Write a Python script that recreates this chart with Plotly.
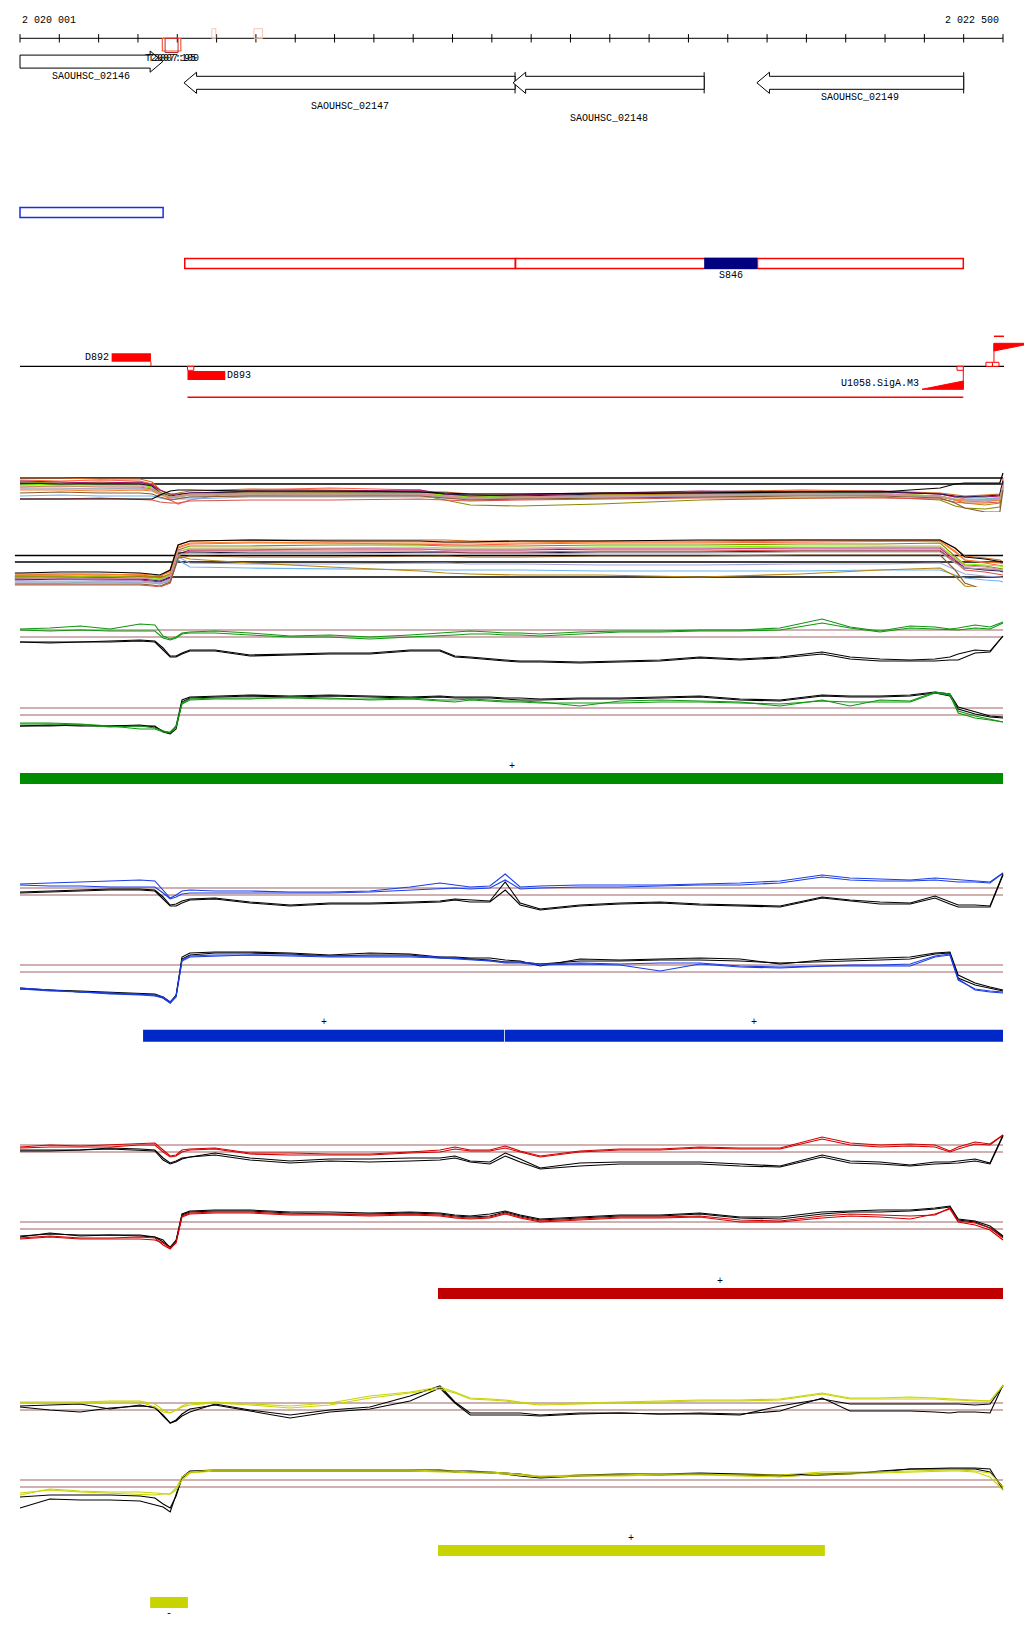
import plotly.graph_objects as go

# ======================= DATA =======================
RULER_START = 2020000
RULER_END = 2022500
RULER_TICK_STEP = 100
RULER_LABELS = ["2 020 001", "2 022 500"]

TERM_NAMES = ["T2007:100", "T2007:95"]
TERM_START = [2020362, 2020369]
TERM_END = [2020409, 2020402]
TERM_COLORS = ["#f05a3c", "#b42828"]
WEAK_TERM_START = [2020488, 2020595]
WEAK_TERM_END = [2020498, 2020617]

GENE_NAMES = ["SAOUHSC_02146", "SAOUHSC_02147", "SAOUHSC_02148", "SAOUHSC_02149"]
GENE_START = [2020000, 2020417, 2021254, 2021874]
GENE_END = [2020363, 2021259, 2021740, 2022400]
GENE_STRAND = ["+", "-", "-", "-"]

OPERON_START = [2020000]
OPERON_END = [2020364]
REGION_START = [2020419, 2021260]
REGION_END = [2021260, 2022399]
SRNA_NAMES = ["S846"]
SRNA_START = [2021740]
SRNA_END = [2021876]

PROM_NAMES = ["D892", "D893"]
PROM_START = [2020233, 2020426]
PROM_END = [2020333, 2020522]
PROM_STRAND = ["+", "-"]
SIGMA_NAMES = ["U1058.SigA.M3", ""]
SIGMA_START = [2022294, 2022477]
SIGMA_END = [2022399, 2022575]
SIGMA_STRAND = ["-", "+"]
TX_START = [2020426]
TX_END = [2022399]

# tiling-array probe positions
MC_POS = [2019987, 2020000, 2020102, 2020203, 2020305, 2020336, 2020356, 2020382, 2020402, 2020432,
          2020585, 2020788, 2021017, 2021081, 2021145, 2021272, 2021475, 2021729, 2021984, 2022187,
          2022340, 2022378, 2022403, 2022454, 2022492, 2022500]
SIG_POS = [2020000, 2020076, 2020153, 2020229, 2020305, 2020343, 2020364, 2020382, 2020397, 2020412,
           2020432, 2020496, 2020585, 2020687, 2020788, 2020890, 2020992, 2021068, 2021106, 2021145,
           2021195, 2021234, 2021272, 2021323, 2021424, 2021526, 2021628, 2021729, 2021831, 2021933,
           2022040, 2022111, 2022187, 2022264, 2022327, 2022365, 2022386, 2022429, 2022467, 2022500]

# all-conditions profiles, strand (+) (upper group)
UP_CHOCOLATE = [None, 0.6, 0.6, 0.5, 0.5, 0.2, -0.6, -1.1, -0.9, -0.7, -0.5, -0.6, -0.7, -0.8, -1.0, -1.0, -0.9, -0.8, -0.6, -0.7, -0.9, -1.1, -1.2, -1.1, -1.0, 0.4]
UP_TOMATO = [None, 0.4, 0.3, 0.4, 0.3, 0.0, -0.8, -1.6, -2.0, -1.6, -0.6, -0.4, -0.6, -1.1, -1.3, -1.1, -1.0, -0.9, -0.7, -0.8, -1.0, -1.3, -1.5, -1.6, -1.4, 0.6]
UP_OLIVE = [None, 0.2, 0.1, 0.2, 0.1, -0.2, -1.0, -1.4, -1.3, -1.1, -1.1, -1.0, -1.1, -1.6, -2.1, -2.2, -2.0, -1.6, -1.4, -1.3, -1.6, -2.2, -2.4, -2.5, -2.3, 0.2]
UP_LIME = [None, -0.1, 0.0, -0.1, -0.1, -0.3, -0.8, -1.2, -1.2, -1.0, -1.0, -0.9, -0.9, -1.1, -1.3, -1.2, -1.1, -1.0, -0.9, -0.9, -1.2, -1.5, -1.6, -1.5, -1.3, 0.0]
UP_MAGENTA = [None, 0.3, 0.2, 0.1, 0.2, -0.1, -0.6, -1.0, -1.0, -0.9, -0.7, -0.7, -0.6, -1.0, -1.2, -1.1, -0.9, -0.7, -0.8, -0.7, -1.0, -1.3, -1.3, -1.3, -1.2, 0.1]
UP_NAVY = [None, 0.1, 0.0, 0.0, 0.0, -0.2, -0.9, -1.2, -1.1, -0.9, -0.8, -0.8, -0.8, -1.0, -1.1, -1.2, -1.0, -0.9, -0.8, -0.8, -1.0, -1.2, -1.3, -1.2, -1.1, 0.3]
UP_SKY = [None, -1.2, -1.1, -1.2, -1.2, -1.2, -1.4, -1.6, -1.5, -1.5, -1.3, -1.3, -1.3, -1.4, -1.5, -1.3, -1.2, -1.1, -1.1, -1.1, -1.3, -1.6, -1.5, -1.5, -1.4, -0.6]
UP_LAVENDER = [None, -0.4, -0.4, -0.5, -0.4, -0.6, -1.0, -1.4, -1.4, -1.3, -1.2, -1.2, -1.1, -1.3, -1.5, -1.4, -1.3, -1.2, -1.1, -1.1, -1.3, -1.6, -1.7, -1.7, -1.6, -0.2]
UP_RED = [None, -1.5, -1.5, -1.4, -1.5, -1.6, -1.8, -1.9, -1.9, -1.7, -1.6, -1.6, -1.5, -1.6, -1.7, -1.6, -1.5, -1.4, -1.4, -1.4, -1.5, -1.8, -1.9, -1.9, -1.8, -0.4]
UP_GOLD = [None, -0.3, -0.2, -0.3, -0.3, -0.5, -1.0, -1.3, -1.2, -1.0, -0.9, -0.9, -1.0, -1.2, -1.4, -1.3, -1.1, -1.0, -0.9, -1.0, -1.2, -1.6, -1.9, -2.1, -1.9, -0.1]
UP_ORANGE = [None, -0.6, -0.6, -0.7, -0.6, -0.7, -1.1, -1.4, -1.3, -1.1, -1.0, -1.0, -1.0, -1.2, -1.5, -1.4, -1.2, -1.1, -1.0, -1.0, -1.3, -1.6, -1.7, -1.8, -1.6, -0.3]
UP_PINK = [None, -0.2, -0.2, -0.2, -0.2, -0.4, -0.9, -1.3, -1.2, -1.0, -1.0, -1.0, -1.0, -1.2, -1.4, -1.3, -1.2, -1.1, -1.0, -1.0, -1.2, -1.5, -1.6, -1.6, -1.5, -0.1]
UP_GRAY = [None, -0.5, -0.5, -0.5, -0.5, -0.6, -1.0, -1.3, -1.3, -1.1, -1.1, -1.1, -1.1, -1.3, -1.5, -1.4, -1.2, -1.1, -1.0, -1.1, -1.3, -1.5, -1.6, -1.6, -1.5, -0.2]
UP_BROWN = [None, -0.9, -0.8, -0.9, -0.9, -1.0, -1.3, -1.6, -1.5, -1.3, -1.2, -1.2, -1.2, -1.4, -1.6, -1.5, -1.4, -1.3, -1.2, -1.2, -1.4, -1.9, -2.4, -2.8, -2.8, -0.6]
UP_BLACK = [None, -1.5, -1.5, -1.5, -1.5, -1.5, -1.1, -0.7, -0.6, -0.6, -0.7, -0.7, -0.8, -0.9, -1.0, -1.0, -0.9, -0.9, -0.8, -0.8, -0.4, 0.0, 0.1, 0.1, 0.1, 1.1]
UP_THRESHOLDS = [0.6, 0.0]

# all-conditions profiles, strand (-) (lower group)
LO_CHOCOLATE = [-1.3, -1.3, -1.2, -1.2, -1.3, -1.4, -1.5, -0.8, 1.7, 2.1, 2.2, 2.2, 2.2, 2.2, 2.1, 2.1, 2.1, 2.1, 2.2, 2.2, 2.2, 1.4, 0.6, 0.4, 0.2, 0.0]
LO_TOMATO = [-1.6, -1.6, -1.5, -1.6, -1.6, -1.7, -1.8, -1.3, 1.4, 1.8, 1.9, 1.9, 1.8, 1.7, 1.7, 1.8, 1.9, 1.9, 2.0, 2.1, 2.1, 1.0, 0.2, -0.1, -0.3, -0.4]
LO_OLIVE = [-1.4, -1.4, -1.4, -1.5, -1.4, -1.5, -1.6, -1.2, 1.2, 1.6, 1.6, 1.7, 1.7, 1.6, 1.6, 1.6, 1.7, 1.7, 1.8, 1.8, 1.9, 0.6, -0.3, -0.4, -0.6, -0.7]
LO_LIME = [-1.5, -1.5, -1.5, -1.4, -1.5, -1.6, -1.7, -1.3, 1.0, 1.4, 1.4, 1.4, 1.5, 1.4, 1.4, 1.4, 1.5, 1.5, 1.6, 1.6, 1.6, 0.4, -0.2, -0.3, -0.4, -0.5]
LO_MAGENTA = [-1.8, -1.8, -1.7, -1.8, -1.8, -1.9, -2.0, -1.6, 0.8, 1.2, 1.2, 1.3, 1.3, 1.2, 1.2, 1.2, 1.3, 1.3, 1.4, 1.4, 1.4, 0.2, -0.6, -0.7, -0.8, -0.9]
LO_NAVY = [-1.7, -1.7, -1.7, -1.7, -1.7, -1.8, -1.9, -1.5, 0.9, 1.0, 0.9, 0.9, 1.0, 1.0, 0.9, 0.9, 1.0, 1.0, 1.1, 1.1, 1.1, 0.0, -0.6, -0.8, -0.9, -1.0]
LO_SKY = [-2.1, -2.1, -2.1, -2.0, -2.1, -2.1, -2.2, -1.9, 0.2, -0.5, -0.6, -0.7, -0.8, -0.8, -0.8, -0.8, -0.9, -0.9, -0.9, -0.8, -0.8, -1.3, -1.6, -1.8, -1.9, -2.0]
LO_LAVENDER = [-1.9, -1.9, -1.9, -1.9, -1.9, -2.0, -2.1, -1.7, 0.5, -0.1, -0.2, -0.2, -0.1, -0.1, -0.2, -0.2, -0.3, -0.3, -0.2, -0.2, -0.1, -0.8, -1.2, -1.4, -1.5, -1.6]
LO_RED = [-2.3, -2.3, -2.3, -2.3, -2.3, -2.4, -2.5, -2.1, 0.6, 1.1, 1.1, 1.1, 1.1, 1.0, 1.0, 1.0, 1.1, 1.1, 1.2, 1.2, 1.2, 0.0, -0.8, -1.0, -1.2, -1.3]
LO_GOLD = [-1.4, -1.4, -1.4, -1.4, -1.4, -1.5, -1.6, -1.2, 0.6, 0.3, -0.1, -0.5, -0.9, -1.1, -1.2, -1.3, -1.3, -1.5, -1.2, -0.8, -0.6, -1.4, -2.4, -2.7, -2.8, -2.9]
LO_ORANGE = [-1.2, -1.2, -1.2, -1.3, -1.2, -1.3, -1.4, -1.0, 1.5, 1.9, 2.0, 1.9, 1.9, 1.9, 1.9, 1.9, 2.0, 2.0, 2.1, 2.1, 2.1, 1.1, 0.2, 0.0, -0.1, -0.2]
LO_PINK = [-1.6, -1.6, -1.7, -1.7, -1.6, -1.7, -1.8, -1.4, 1.1, 1.3, 1.3, 1.3, 1.3, 1.3, 1.3, 1.3, 1.4, 1.4, 1.4, 1.5, 1.5, 0.3, -0.4, -0.5, -0.7, -0.8]
LO_GRAY = [-2.0, -2.0, -2.0, -2.0, -2.0, -2.1, -2.2, -1.8, 0.7, 0.9, 0.8, 0.8, 0.8, 0.8, 0.8, 0.8, 0.9, 0.9, 1.0, 1.0, 1.0, -0.1, -0.6, -0.7, -0.8, -0.9]
LO_BROWN = [-2.2, -2.2, -2.2, -2.2, -2.2, -2.3, -2.4, -2.0, 0.4, 0.6, 0.5, 0.5, 0.6, 0.6, 0.5, 0.5, 0.6, 0.6, 0.7, 0.7, 0.7, -0.8, -2.1, -2.8, -2.9, -3.0]
LO_BLACK = [-1.1, -1.1, -1.0, -1.0, -1.1, -1.2, -1.3, -0.8, 1.7, 2.1, 2.2, 2.1, 2.1, 2.0, 2.0, 2.1, 2.1, 2.2, 2.2, 2.2, 2.2, 1.4, 0.5, 0.3, 0.1, 0.0]
LO_THRESHOLDS = [0.65, 0.0, -1.5]

MC_COLORS = ["#d2691e", "#ff6347", "#8a8a00", "#7cfc00", "#a0106e", "#1c1848", "#6cb4f0",
             "#a3a3e0", "#d9534f", "#b8860b", "#ff7f24", "#e08cb0", "#a8a8a8", "#8b5a2b"]

# condition panels: two replicates of condition (colour) and reference (black)
SIG_THRESHOLDS = [0.0, 0.7]

GREEN_TOP_1 = [0.8, 0.9, 1.1, 0.8, 1.3, 1.2, 0.1, -0.2, 0.0, 0.4, 0.5, 0.6, 0.4, 0.1, 0.2, 0.0, 0.2, 0.4, 0.5, 0.6, 0.5, 0.4, 0.4, 0.3, 0.5, 0.6, 0.6, 0.7, 0.7, 0.9, 1.8, 1.0, 0.6, 1.1, 1.0, 0.8, 0.9, 1.2, 1.0, 1.5]
GREEN_TOP_2 = [0.7, 0.6, 0.7, 0.6, 0.6, 0.6, -0.1, -0.3, -0.1, 0.3, 0.4, 0.4, 0.2, 0.0, 0.0, -0.2, 0.0, 0.1, 0.2, 0.3, 0.3, 0.2, 0.2, 0.1, 0.3, 0.5, 0.5, 0.6, 0.6, 0.7, 1.4, 0.9, 0.5, 0.9, 0.8, 0.7, 0.7, 0.9, 0.8, 1.4]
GREEN_TOP_REF_1 = [-0.5, -0.5, -0.5, -0.4, -0.3, -0.4, -1.1, -1.9, -1.9, -1.6, -1.3, -1.3, -1.8, -1.7, -1.6, -1.6, -1.3, -1.3, -1.9, -2.0, -2.2, -2.3, -2.4, -2.4, -2.5, -2.4, -2.3, -2.0, -2.2, -2.0, -1.5, -2.0, -2.2, -2.3, -2.2, -2.0, -1.7, -1.3, -1.4, 0.1]
GREEN_TOP_REF_2 = [-0.5, -0.6, -0.5, -0.5, -0.4, -0.5, -1.3, -2.0, -2.0, -1.7, -1.4, -1.4, -1.9, -1.8, -1.7, -1.7, -1.4, -1.4, -2.0, -2.1, -2.3, -2.4, -2.5, -2.5, -2.6, -2.5, -2.4, -2.1, -2.3, -2.1, -1.7, -2.2, -2.4, -2.4, -2.4, -2.3, -2.3, -1.6, -1.5, 0.1]
GREEN_BOT_1 = [-0.9, -0.9, -1.0, -1.2, -1.1, -1.3, -1.6, -1.8, -1.2, 1.2, 1.6, 1.7, 1.7, 1.7, 1.6, 1.6, 1.7, 1.5, 1.5, 1.6, 1.5, 1.4, 1.4, 1.3, 0.9, 1.4, 1.5, 1.4, 1.3, 0.9, 1.5, 0.9, 1.5, 1.4, 2.3, 2.1, 0.4, -0.1, -0.4, -0.7]
GREEN_BOT_2 = [-0.8, -0.8, -0.9, -1.1, -1.4, -1.4, -1.7, -1.7, -1.1, 1.1, 1.5, 1.6, 1.6, 1.8, 1.7, 1.5, 1.6, 1.4, 1.3, 1.5, 1.4, 1.3, 1.3, 1.2, 1.2, 1.2, 1.3, 1.3, 1.2, 1.1, 1.4, 1.3, 1.3, 1.3, 2.2, 2.0, 0.2, -0.3, -0.5, -0.7]
GREEN_BOT_REF_1 = [-1.1, -1.0, -1.1, -1.1, -1.0, -1.2, -1.6, -1.8, -1.1, 1.5, 1.8, 1.9, 2.0, 1.9, 2.0, 1.9, 1.8, 1.9, 1.8, 1.8, 1.8, 1.7, 1.7, 1.6, 1.7, 1.7, 1.8, 1.9, 1.6, 1.5, 2.0, 1.9, 1.9, 2.0, 2.3, 2.1, 0.8, 0.3, -0.1, -0.2]
GREEN_BOT_REF_2 = [-1.1, -1.1, -1.0, -1.1, -1.1, -1.1, -1.7, -1.9, -1.4, 1.3, 1.7, 1.8, 1.9, 1.8, 1.9, 1.8, 1.7, 1.8, 1.7, 1.7, 1.7, 1.6, 1.5, 1.5, 1.6, 1.6, 1.7, 1.8, 1.5, 1.4, 1.9, 1.8, 1.8, 1.9, 2.2, 1.9, 0.6, 0.1, -0.2, -0.3]

BLUE_TOP_1 = [1.1, 1.2, 1.3, 1.4, 1.5, 1.4, 0.5, -0.3, 0.0, 0.4, 0.5, 0.4, 0.4, 0.3, 0.3, 0.4, 0.8, 1.2, 1.0, 0.8, 0.9, 2.1, 0.8, 0.9, 1.0, 1.0, 1.0, 1.1, 1.2, 1.4, 2.0, 1.7, 1.6, 1.5, 1.7, 1.6, 1.5, 1.4, 1.3, 2.2]
BLUE_TOP_2 = [1.0, 0.9, 0.9, 0.8, 0.8, 0.8, 0.2, -0.4, -0.2, 0.1, 0.2, 0.2, 0.2, 0.2, 0.2, 0.3, 0.5, 0.7, 0.7, 0.6, 0.7, 1.5, 0.6, 0.7, 0.8, 0.8, 0.9, 1.0, 1.0, 1.2, 1.8, 1.5, 1.4, 1.4, 1.5, 1.4, 1.3, 1.3, 1.2, 2.2]
BLUE_TOP_REF_1 = [0.3, 0.4, 0.5, 0.6, 0.6, 0.5, -0.2, -1.0, -0.9, -0.6, -0.4, -0.3, -0.7, -1.0, -0.8, -0.8, -0.7, -0.6, -0.4, -0.5, -0.6, 1.3, -0.8, -1.4, -1.0, -0.8, -0.7, -0.9, -1.0, -1.1, -0.2, -0.5, -0.7, -0.8, -0.1, -0.7, -1.0, -1.0, -1.1, 2.1]
BLUE_TOP_REF_2 = [0.2, 0.3, 0.4, 0.5, 0.5, 0.4, -0.4, -1.1, -1.1, -0.8, -0.5, -0.4, -0.8, -1.1, -0.9, -0.9, -0.8, -0.7, -0.5, -0.7, -0.7, 0.5, -1.0, -1.5, -1.1, -0.9, -0.8, -1.0, -1.1, -1.2, -0.3, -0.6, -0.9, -0.9, -0.3, -0.9, -1.2, -1.2, -1.2, 2.0]
BLUE_BOT_1 = [-1.6, -1.8, -2.0, -2.1, -2.2, -2.3, -2.5, -3.0, -2.4, 1.2, 1.6, 1.7, 1.7, 1.7, 1.6, 1.6, 1.6, 1.5, 1.4, 1.3, 1.1, 1.0, 1.0, 0.8, 0.9, 0.8, 0.9, 0.9, 0.6, 0.5, 0.6, 0.6, 0.6, 0.6, 1.5, 1.7, -0.8, -1.7, -1.9, -2.0]
BLUE_BOT_2 = [-1.7, -1.9, -2.0, -2.2, -2.3, -2.4, -2.6, -3.1, -2.5, 1.1, 1.5, 1.6, 1.7, 1.6, 1.5, 1.5, 1.5, 1.4, 1.3, 1.2, 1.1, 0.9, 0.9, 0.7, 0.8, 0.7, 0.1, 0.8, 0.5, 0.4, 0.6, 0.7, 0.7, 0.8, 1.6, 1.8, -0.7, -1.8, -2.0, -2.1]
BLUE_BOT_REF_1 = [-1.6, -1.8, -1.9, -2.0, -2.1, -2.2, -2.5, -3.0, -2.3, 1.5, 1.9, 2.0, 2.0, 1.9, 1.7, 1.9, 1.8, 1.5, 1.5, 1.4, 1.4, 1.2, 1.1, 0.6, 1.3, 1.2, 1.3, 1.4, 1.3, 0.8, 1.2, 1.3, 1.4, 1.5, 1.9, 2.0, -0.3, -1.1, -1.5, -1.8]
BLUE_BOT_REF_2 = [-1.7, -1.8, -2.0, -2.1, -2.2, -2.3, -2.6, -3.1, -2.4, 1.3, 1.7, 1.9, 1.9, 1.8, 1.6, 1.7, 1.7, 1.4, 1.4, 1.3, 1.2, 1.0, 1.0, 0.8, 1.1, 1.1, 1.2, 1.2, 1.1, 0.9, 1.0, 1.1, 1.2, 1.3, 1.8, 1.9, -0.6, -1.3, -1.6, -1.9]

RED_TOP_1 = [0.5, 0.7, 0.6, 0.7, 0.8, 0.9, 0.2, -0.4, -0.3, 0.2, 0.3, 0.4, -0.1, -0.1, -0.2, -0.2, 0.0, 0.2, 0.5, 0.2, 0.2, 0.6, 0.1, -0.4, 0.1, 0.3, 0.3, 0.5, 0.4, 0.4, 1.5, 0.9, 0.7, 0.8, 0.7, 0.1, 0.5, 1.0, 0.8, 1.7]
RED_TOP_2 = [0.4, 0.5, 0.5, 0.5, 0.7, 0.7, 0.0, -0.5, -0.4, 0.0, 0.2, 0.3, -0.2, -0.3, -0.3, -0.3, -0.1, 0.0, 0.3, 0.1, 0.1, 0.4, 0.0, -0.5, 0.0, 0.2, 0.2, 0.4, 0.3, 0.3, 1.3, 0.7, 0.5, 0.6, 0.5, 0.0, 0.3, 0.8, 0.7, 1.7]
RED_TOP_REF_1 = [0.1, 0.1, 0.2, 0.4, 0.3, 0.2, -0.6, -1.1, -0.9, -0.6, -0.5, -0.1, -0.6, -0.9, -0.7, -0.7, -0.6, -0.6, -0.4, -0.9, -1.0, -0.1, -0.7, -1.6, -1.1, -1.0, -1.0, -1.0, -1.2, -1.4, -0.3, -0.9, -1.0, -1.3, -1.0, -1.0, -0.9, -0.7, -1.1, 1.7]
RED_TOP_REF_2 = [0.2, 0.2, 0.2, 0.3, 0.2, 0.1, -0.8, -1.2, -1.0, -0.7, -0.5, -0.3, -0.8, -1.1, -0.9, -1.0, -0.9, -0.8, -0.6, -1.0, -1.2, -0.4, -1.0, -1.7, -1.4, -1.2, -1.2, -1.2, -1.4, -1.5, -0.5, -1.1, -1.2, -1.4, -1.2, -1.1, -1.1, -0.9, -1.2, 1.6]
RED_BOT_1 = [-0.9, -0.7, -0.9, -0.9, -0.8, -0.9, -1.6, -2.0, -1.3, 1.3, 1.6, 1.7, 1.7, 1.5, 1.5, 1.4, 1.5, 1.4, 1.2, 1.1, 1.2, 1.6, 1.2, 0.8, 1.0, 1.2, 1.2, 1.3, 0.9, 0.8, 1.3, 1.5, 1.4, 1.3, 1.4, 2.1, 0.8, 0.6, 0.1, -0.9]
RED_BOT_2 = [-1.0, -0.8, -1.0, -1.0, -1.0, -1.1, -1.4, -1.9, -1.4, 1.2, 1.5, 1.6, 1.6, 1.4, 1.4, 1.3, 1.4, 1.3, 1.1, 1.0, 1.1, 1.5, 1.1, 0.7, 0.9, 1.1, 1.1, 1.2, 0.7, 0.7, 1.1, 1.3, 1.2, 1.0, 1.5, 2.0, 0.7, 0.4, -0.1, -1.1]
RED_BOT_REF_1 = [-0.8, -0.4, -0.7, -0.6, -0.7, -0.8, -1.3, -1.8, -1.1, 1.5, 1.8, 1.9, 1.9, 1.7, 1.7, 1.6, 1.7, 1.6, 1.4, 1.3, 1.5, 1.8, 1.4, 1.0, 1.2, 1.4, 1.4, 1.6, 1.2, 1.2, 1.7, 1.8, 1.9, 1.9, 2.1, 2.3, 1.0, 0.8, 0.3, -0.7]
RED_BOT_REF_2 = [-0.7, -0.5, -0.6, -0.6, -0.6, -0.8, -1.1, -1.9, -1.2, 1.4, 1.7, 1.8, 1.8, 1.6, 1.5, 1.5, 1.6, 1.5, 1.3, 1.2, 1.3, 1.7, 1.3, 0.9, 1.1, 1.3, 1.3, 1.5, 1.1, 1.0, 1.5, 1.7, 1.7, 1.8, 2.0, 2.2, 0.9, 0.7, 0.1, -0.8]

YELLOW_TOP_1 = [0.8, 0.8, 0.8, 0.9, 0.9, 0.6, 0.0, -0.3, 0.0, 0.4, 0.7, 0.8, 0.6, 0.4, 0.7, 1.4, 1.8, 2.3, 1.8, 1.2, 1.1, 1.0, 0.8, 0.6, 0.7, 0.8, 0.9, 1.0, 1.0, 1.1, 1.7, 1.2, 1.2, 1.3, 1.2, 1.1, 1.1, 1.0, 0.9, 2.5]
YELLOW_TOP_2 = [0.7, 0.7, 0.7, 0.8, 0.8, 0.3, -0.2, -0.3, 0.0, 0.3, 0.5, 0.7, 0.5, 0.2, 0.5, 1.2, 1.7, 2.1, 1.7, 1.1, 1.0, 0.9, 0.7, 0.5, 0.6, 0.7, 0.8, 0.9, 0.9, 1.0, 1.6, 1.1, 1.1, 1.1, 1.1, 1.0, 1.0, 0.9, 0.9, 2.4]
YELLOW_TOP_REF_1 = [0.4, 0.5, 0.6, 0.1, 0.5, 0.2, -0.5, -1.3, -1.1, -0.6, -0.2, 0.6, 0.0, -0.5, 0.0, 0.3, 1.4, 2.4, 0.8, -0.3, -0.3, -0.3, -0.3, -0.5, -0.3, -0.3, -0.4, -0.3, -0.4, -0.1, 1.2, -0.1, -0.1, -0.1, -0.2, -0.3, -0.2, -0.2, -0.3, 2.5]
YELLOW_TOP_REF_2 = [0.3, 0.0, -0.2, 0.2, 0.4, 0.3, -0.6, -1.3, -1.0, -0.4, 0.1, 0.5, -0.1, -0.8, -0.2, 0.1, 0.9, 2.2, 0.7, -0.5, -0.5, -0.5, -0.5, -0.6, -0.4, -0.3, -0.4, -0.4, -0.5, 0.4, 1.1, 0.6, 0.6, 0.6, 0.6, 0.6, 0.6, 0.5, 0.6, 2.4]
YELLOW_BOT_1 = [-0.8, -0.2, -0.4, -0.5, -0.5, -0.6, -0.7, -0.7, -0.1, 1.0, 1.5, 1.7, 1.7, 1.7, 1.7, 1.7, 1.7, 1.6, 1.6, 1.5, 1.5, 1.4, 1.3, 1.1, 1.2, 1.2, 1.3, 1.3, 1.2, 1.2, 1.5, 1.5, 1.5, 1.6, 1.7, 1.7, 1.7, 1.6, 1.4, 0.0]
YELLOW_BOT_2 = [-0.6, -0.3, -0.5, -0.6, -0.7, -0.8, -0.7, -0.7, -0.3, 0.7, 1.4, 1.6, 1.6, 1.6, 1.6, 1.6, 1.6, 1.5, 1.5, 1.4, 1.4, 1.3, 1.2, 1.0, 1.1, 1.1, 1.2, 1.2, 1.1, 1.0, 1.3, 1.3, 1.4, 1.5, 1.6, 1.6, 1.6, 1.5, 1.0, -0.3]
YELLOW_BOT_REF_1 = [-2.1, -1.2, -1.3, -1.3, -1.4, -1.8, -2.0, -2.5, -0.8, 1.0, 1.6, 1.7, 1.7, 1.7, 1.7, 1.7, 1.7, 1.7, 1.6, 1.6, 1.5, 1.4, 1.3, 1.0, 1.2, 1.3, 1.3, 1.4, 1.3, 1.2, 1.3, 1.4, 1.5, 1.8, 1.9, 1.9, 1.9, 1.9, 1.8, -0.3]
YELLOW_BOT_REF_2 = [-1.0, -0.8, -0.8, -0.8, -0.9, -1.1, -1.7, -2.1, -0.9, 0.9, 1.5, 1.6, 1.6, 1.6, 1.6, 1.6, 1.6, 1.6, 1.5, 1.5, 1.4, 1.3, 1.1, 0.9, 1.1, 1.2, 1.2, 1.3, 1.2, 1.1, 1.2, 1.3, 1.6, 1.8, 1.8, 1.8, 1.8, 1.8, 1.5, 0.0]

# segmentation calls per condition
SEG_PANEL = ["green", "blue", "blue", "red", "yellow", "yellow"]
SEG_START = [2020000, 2020313, 2021233, 2021063, 2021063, 2020331]
SEG_END = [2022500, 2021231, 2022500, 2022500, 2022047, 2020427]
SEG_STRAND = ["+", "+", "+", "+", "+", "-"]

# ======================= LAYOUT / STYLE =======================
W, H = 1024, 1640
BP_PER_PX = 2500 / 983.0
VIEW = [RULER_START - 20 * BP_PER_PX, RULER_START + 1004 * BP_PER_PX]
FONT = "Liberation Mono, DejaVu Sans Mono, monospace"
PPU = 10.0  # pixels per signal unit

RULER_Y, RULER_LABEL_Y = 38.3, 20
TERM_Y = (38.3, 51.0)
TERM_INNER_Y = (38.3, 52.5)
WEAK_Y = (28.7, 38.3)
TERM_LABEL_Y = 58.3
GENE_LANE_Y = [61.6, 82.8, 82.8, 82.8]
GENE_LABEL_Y = [76.3, 106.0, 118.3, 97.3]
SHAFT_HALF, HEAD_HALF, HEAD_BP = 6.5, 10.6, 32
OPERON_Y = (207.6, 217.6)
REGION_Y = (258.4, 268.4)
SRNA_LABEL_Y = 275.3
BASE_Y = 366.3
PROM_UP_Y = (353.3, 361.7)
PROM_DN_Y = (371.0, 380.0)
TX_Y = 397.3
SQ_BP, SQ_H = 16, 4.0
SIGMA_DN_Y = (381.0, 389.3)
SIGMA_UP_Y = (343.3, 351.0)

SUB_REF = {"y2": 484, "y3": 562, "y4": 637, "y5": 715, "y6": 895, "y7": 972,
           "y8": 1152, "y9": 1229, "y10": 1410, "y11": 1487}
PANEL_STYLE = {
    "green": dict(color="#0f960f", bar="#008c00", top="y4", bot="y5", plus=(773.0, 784.0), minus=None),
    "blue": dict(color="#1a3ee8", bar="#0028c8", top="y6", bot="y7", plus=(1029.7, 1041.7), minus=None),
    "red": dict(color="#d20000", bar="#c00000", top="y8", bot="y9", plus=(1288.0, 1299.0), minus=None),
    "yellow": dict(color="#c8d400", bar="#c8d400", top="y10", bot="y11", plus=(1545.0, 1556.0), minus=(1597.0, 1608.0)),
}
THRESH_COLOR = "#a06464"

fig = go.Figure()
shapes = []
annos = []


def px(n_px):
    return n_px * BP_PER_PX


def text(x, y, s, anchor="center", size=10, color="black"):
    annos.append(dict(x=x, y=y, xref="x", yref="y", text=s, showarrow=False, xanchor=anchor,
                      yanchor="middle", font=dict(family=FONT, size=size, color=color)))


def rect(x0, x1, y0, y1, line=None, fill=None, width=1.0):
    shapes.append(dict(type="rect", xref="x", yref="y", x0=x0, x1=x1, y0=y0, y1=y1,
                       line=dict(color=line or "rgba(0,0,0,0)", width=width if line else 0),
                       fillcolor=fill or "rgba(0,0,0,0)"))


def seg(x0, y0, x1, y1, color, width=1.0):
    shapes.append(dict(type="line", xref="x", yref="y", x0=x0, y0=y0, x1=x1, y1=y1,
                       line=dict(color=color, width=width)))


def path(pts, line, fill=None, width=1.0):
    d = "M " + " L ".join(f"{x:.1f},{y:.2f}" for x, y in pts) + " Z"
    shapes.append(dict(type="path", xref="x", yref="y", path=d,
                       line=dict(color=line, width=width), fillcolor=fill or "rgba(0,0,0,0)"))


def line_trace(xs, ys, color, yaxis, width=1.0):
    fig.add_trace(go.Scatter(x=xs, y=ys, mode="lines", yaxis=yaxis, hoverinfo="skip",
                             line=dict(color=color, width=width), connectgaps=False))


# ---- ruler ----
seg(RULER_START, RULER_Y, RULER_END, RULER_Y, "black", 1)
ticks = list(range(RULER_START, RULER_END + 1, RULER_TICK_STEP))
fig.add_trace(go.Scatter(x=ticks, y=[RULER_Y] * len(ticks), mode="markers", yaxis="y", hoverinfo="skip",
                         marker=dict(symbol="line-ns", size=6, color="black", line=dict(color="black", width=1))))
text(RULER_START, RULER_LABEL_Y, RULER_LABELS[0], "left")
text(RULER_END - px(2), RULER_LABEL_Y, RULER_LABELS[1], "right")

# ---- terminators ----
for s, e in zip(WEAK_TERM_START, WEAK_TERM_END):
    rect(s, e, WEAK_Y[0], WEAK_Y[1], line="#f6c4b4", width=1)
rect(TERM_START[0], TERM_END[0], TERM_Y[0], TERM_Y[1], line=TERM_COLORS[0], width=1.2)
rect(TERM_START[1], TERM_END[1], TERM_INNER_Y[0], TERM_INNER_Y[1], line=TERM_COLORS[1], width=1)

# ---- genes ----
for name, s, e, st, yc, ly in zip(GENE_NAMES, GENE_START, GENE_END, GENE_STRAND, GENE_LANE_Y, GENE_LABEL_Y):
    top, bot = yc - SHAFT_HALF, yc + SHAFT_HALF
    htop, hbot = yc - HEAD_HALF, yc + HEAD_HALF
    if st == "+":
        xb = e - HEAD_BP
        pts = [(s, top), (xb, top), (xb, htop), (e, yc), (xb, hbot), (xb, bot), (s, bot)]
    else:
        xb = s + HEAD_BP
        pts = [(e, top), (xb, top), (xb, htop), (s, yc), (xb, hbot), (xb, bot), (e, bot)]
        seg(e, htop, e, hbot, "black", 1)
    path(pts, "black", "white", 1)
    text((s + e) / 2, ly, name)

for nm in TERM_NAMES:
    text((TERM_START[0] + TERM_END[0]) / 2, TERM_LABEL_Y, nm)

# ---- operon / regions ----
for s, e in zip(OPERON_START, OPERON_END):
    rect(s, e, OPERON_Y[0], OPERON_Y[1], line="#1a2ee6", width=1.5)
for s, e in zip(REGION_START, REGION_END):
    rect(s, e, REGION_Y[0], REGION_Y[1], line="#ff0000", width=1.5)
for nm, s, e in zip(SRNA_NAMES, SRNA_START, SRNA_END):
    rect(s, e, REGION_Y[0] - 0.7, REGION_Y[1] + 0.7, fill="#000080")
    seg(e, REGION_Y[0], e, REGION_Y[1], "#ff0000", 1.2)
    text((s + e) / 2, SRNA_LABEL_Y, nm)

# ---- promoters / terminators track ----
seg(RULER_START, BASE_Y, RULER_END + px(1), BASE_Y, "black", 1.2)
for nm, s, e, st in zip(PROM_NAMES, PROM_START, PROM_END, PROM_STRAND):
    if st == "+":
        rect(s, e, PROM_UP_Y[0], PROM_UP_Y[1], fill="#ff0000")
        seg(e, PROM_UP_Y[1], e, BASE_Y, "#ff0000", 1)
        text(s - px(1), (PROM_UP_Y[0] + PROM_UP_Y[1]) / 2, nm, "right")
    else:
        rect(s, s + SQ_BP, BASE_Y, BASE_Y + SQ_H, line="#ff0000", fill="white", width=1)
        rect(s, e, PROM_DN_Y[0], PROM_DN_Y[1], fill="#ff0000")
        text(e, (PROM_DN_Y[0] + PROM_DN_Y[1]) / 2, nm, "left")
for s, e in zip(TX_START, TX_END):
    seg(s, TX_Y, e, TX_Y, "#ff0000", 1.5)
for nm, s, e, st in zip(SIGMA_NAMES, SIGMA_START, SIGMA_END, SIGMA_STRAND):
    if st == "-":
        path([(s, SIGMA_DN_Y[1]), (e, SIGMA_DN_Y[1]), (e, SIGMA_DN_Y[0])], "#ff0000", "#ff0000", 1)
        seg(e, BASE_Y, e, SIGMA_DN_Y[1], "#ff0000", 1)
        rect(e - SQ_BP, e, BASE_Y, BASE_Y + SQ_H, line="#ff0000", fill="white", width=1)
        text(s - px(1), SIGMA_DN_Y[0] + 2, nm, "right")
    else:
        path([(s, SIGMA_UP_Y[0]), (e, SIGMA_UP_Y[0]), (s, SIGMA_UP_Y[1])], "#ff0000", "#ff0000", 1)
        seg(s, BASE_Y, s, SIGMA_UP_Y[0], "#ff0000", 1)
        rect(s - px(8), s - px(1.5), BASE_Y - SQ_H, BASE_Y, line="#ff0000", fill="white", width=1)
        rect(s - px(1.5), s + px(5), BASE_Y - SQ_H, BASE_Y, line="#ff0000", fill="white", width=1)
        seg(s, SIGMA_UP_Y[0] - 7, s + px(10), SIGMA_UP_Y[0] - 7, "#ff0000", 1.5)

# ---- all-condition groups ----
UP_SERIES = [UP_CHOCOLATE, UP_TOMATO, UP_OLIVE, UP_LIME, UP_MAGENTA, UP_NAVY, UP_SKY,
             UP_LAVENDER, UP_RED, UP_GOLD, UP_ORANGE, UP_PINK, UP_GRAY, UP_BROWN]
LO_SERIES = [LO_CHOCOLATE, LO_TOMATO, LO_OLIVE, LO_LIME, LO_MAGENTA, LO_NAVY, LO_SKY,
             LO_LAVENDER, LO_RED, LO_GOLD, LO_ORANGE, LO_PINK, LO_GRAY, LO_BROWN]
for t in UP_THRESHOLDS:
    line_trace([RULER_START, RULER_END], [t, t], "black", "y2", 1.3)
for t in LO_THRESHOLDS:
    line_trace([MC_POS[0], RULER_END], [t, t], "black", "y3", 1.3)
for vals, col in zip(UP_SERIES, MC_COLORS):
    line_trace(MC_POS, vals, col, "y2", 1.2)
for vals, col in zip(LO_SERIES, MC_COLORS):
    line_trace(MC_POS, vals, col, "y3", 1.2)
line_trace(MC_POS, UP_BLACK, "black", "y2", 1.2)
line_trace(MC_POS, LO_BLACK, "black", "y3", 1.2)

# ---- condition panels ----
PANEL_DATA = {
    "green": ([GREEN_TOP_REF_1, GREEN_TOP_REF_2], [GREEN_TOP_1, GREEN_TOP_2],
              [GREEN_BOT_REF_1, GREEN_BOT_REF_2], [GREEN_BOT_1, GREEN_BOT_2]),
    "blue": ([BLUE_TOP_REF_1, BLUE_TOP_REF_2], [BLUE_TOP_1, BLUE_TOP_2],
             [BLUE_BOT_REF_1, BLUE_BOT_REF_2], [BLUE_BOT_1, BLUE_BOT_2]),
    "red": ([RED_TOP_REF_1, RED_TOP_REF_2], [RED_TOP_1, RED_TOP_2],
            [RED_BOT_REF_1, RED_BOT_REF_2], [RED_BOT_1, RED_BOT_2]),
    "yellow": ([YELLOW_TOP_REF_1, YELLOW_TOP_REF_2], [YELLOW_TOP_1, YELLOW_TOP_2],
               [YELLOW_BOT_REF_1, YELLOW_BOT_REF_2], [YELLOW_BOT_1, YELLOW_BOT_2]),
}
for pname, st in PANEL_STYLE.items():
    top_ref, top_cond, bot_ref, bot_cond = PANEL_DATA[pname]
    for ax in (st["top"], st["bot"]):
        for t in SIG_THRESHOLDS:
            line_trace([RULER_START, RULER_END], [t, t], THRESH_COLOR, ax, 1.2)
    for vals in top_ref:
        line_trace(SIG_POS, vals, "black", st["top"], 1.1)
    for vals in top_cond:
        line_trace(SIG_POS, vals, st["color"], st["top"], 1.1)
    for vals in bot_ref:
        line_trace(SIG_POS, vals, "black", st["bot"], 1.1)
    for vals in bot_cond:
        line_trace(SIG_POS, vals, st["color"], st["bot"], 1.1)

for pname, s, e, strand in zip(SEG_PANEL, SEG_START, SEG_END, SEG_STRAND):
    st = PANEL_STYLE[pname]
    y0, y1 = st["plus"] if strand == "+" else st["minus"]
    rect(s, e, y0, y1, fill=st["bar"])
    if strand == "+":
        text((s + e) / 2, y0 - 7, "+", size=10)
    else:
        text((s + e) / 2, y1 + 5.5, "-", size=10)

# ---- axes ----
layout = dict(
    width=W, height=H, margin=dict(l=0, r=0, t=0, b=0), paper_bgcolor="white", plot_bgcolor="white",
    showlegend=False, shapes=shapes, annotations=annos,
    xaxis=dict(range=VIEW, visible=False, domain=[0, 1], anchor="y", fixedrange=True),
    yaxis=dict(range=[H, 0], visible=False, domain=[0, 1], anchor="x", fixedrange=True),
)
for key, ref in SUB_REF.items():
    lo, hi = -5.0, 5.0
    top_px = ref - hi * PPU
    bot_px = ref - lo * PPU
    layout["yaxis" + key[1:]] = dict(range=[lo, hi], domain=[1 - bot_px / H, 1 - top_px / H],
                                     visible=False, anchor="x", fixedrange=True)
fig.update_layout(**layout)

fig.write_html("out.html", config={"displayModeBar": False, "staticPlot": True},
               post_script="document.body.style.margin='0';")
